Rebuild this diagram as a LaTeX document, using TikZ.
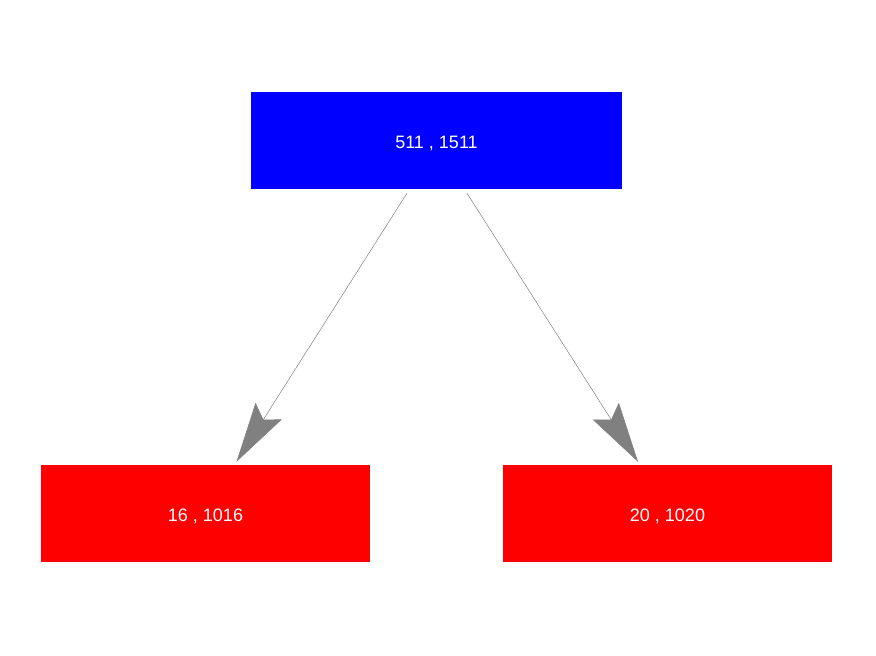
\documentclass[tikz,border=0pt]{standalone}
\usepackage{fontspec}
\setmainfont{Liberation Sans}
\usetikzlibrary{arrows.meta}
\newcommand{\boxtext}[1]{\raisebox{-7.5pt}[0pt][0pt]{#1}}
\begin{document}
\begin{tikzpicture}[x=1pt,y=-1pt,
    box/.style={minimum width=#1pt,minimum height=97pt,inner sep=0pt,text=white,font=\fontsize{18}{20}\selectfont},
    link/.style={draw=gray,line width=0.5pt,-{Stealth[length=60pt,width=31pt,inset=10pt,fill=gray]}}]
        \useasboundingbox (0,0) rectangle (876,656);
        \node[box=371,fill=blue] (top) at (436.5,140.5) {\boxtext{511 , 1511}};
        \node[box=329,fill=red] (left) at (205.5,513.5) {\boxtext{16 , 1016}};
        \node[box=329,fill=red] (right) at (667.5,513.5) {\boxtext{20 , 1020}};
        \coordinate (tl) at ([xshift=-29.5pt,yshift=-4pt]top.south);
        \coordinate (tr) at ([xshift=30.5pt,yshift=-4pt]top.south);
        \coordinate (el) at ([xshift=31pt,yshift=3pt]left.north);
        \coordinate (er) at ([xshift=-29.5pt,yshift=3pt]right.north);
        \draw[link] (tl) -- (el);
        \draw[link] (tr) -- (er);
    \end{tikzpicture}
\end{document}
